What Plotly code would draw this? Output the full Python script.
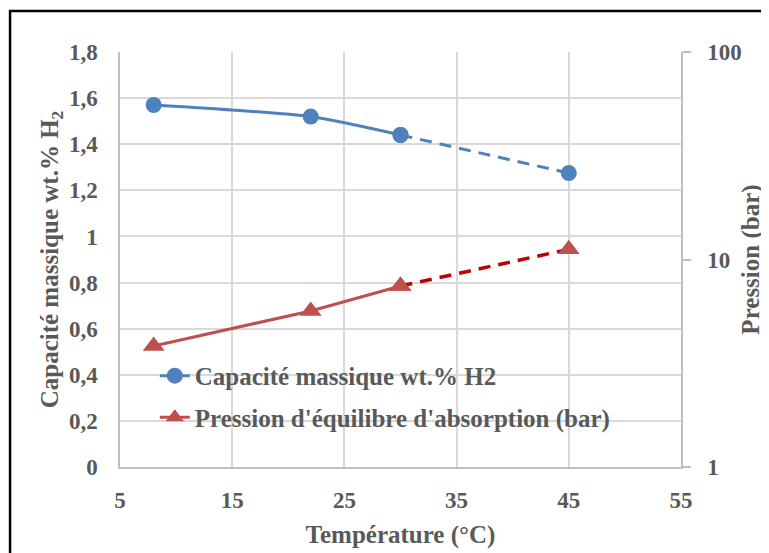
import plotly.graph_objects as go

temperature = [8, 22, 30, 45]
capacite = [1.57, 1.52, 1.44, 1.275]
pression = [3.83, 5.65, 7.45, 11.2]

x_ticks = [5, 15, 25, 35, 45, 55]
y_ticks = [0, 0.2, 0.4, 0.6, 0.8, 1.0, 1.2, 1.4, 1.6, 1.8]
y_tick_labels = ["0", "0,2", "0,4", "0,6", "0,8", "1", "1,2", "1,4", "1,6", "1,8"]
p_ticks = [1, 10, 100]

BLUE = "#4F81BD"
RED = "#C0504D"
DARK_RED = "#C00000"
GRAY = "#595959"
FONT = "Liberation Serif"

fig = go.Figure()

# Capacity: solid measured part + dashed extrapolation
fig.add_trace(go.Scatter(
    x=temperature[:3], y=capacite[:3], mode="lines+markers",
    name="Capacité massique wt.% H2", legendgroup="a",
    line=dict(color=BLUE, width=3, shape="spline", smoothing=0.6),
    marker=dict(symbol="circle", size=16, color=BLUE),
))
fig.add_trace(go.Scatter(
    x=temperature[2:], y=capacite[2:], mode="lines+markers", showlegend=False,
    legendgroup="a",
    line=dict(color=BLUE, width=3, dash="12px,8px"),
    marker=dict(symbol="circle", size=16, color=BLUE),
))

# Pressure on secondary log axis
fig.add_trace(go.Scatter(
    x=temperature[:3], y=pression[:3], mode="lines+markers", yaxis="y2",
    name="Pression d'équilibre d'absorption (bar)", legendgroup="b",
    line=dict(color=RED, width=3),
    marker=dict(symbol="triangle-up", size=19, color=RED),
))
fig.add_trace(go.Scatter(
    x=temperature[2:], y=pression[2:], mode="lines", yaxis="y2", showlegend=False,
    legendgroup="b",
    line=dict(color=DARK_RED, width=3.5, dash="12px,8px"),
))
fig.add_trace(go.Scatter(
    x=temperature[2:], y=pression[2:], mode="markers", yaxis="y2", showlegend=False,
    legendgroup="b",
    marker=dict(symbol="triangle-up", size=19, color=RED),
))

tick_font = dict(family=FONT, size=23, color=GRAY)
title_font = dict(family=FONT, size=25, color=GRAY)

fig.update_layout(
    width=761, height=545,
    margin=dict(l=112, r=88, t=44, b=86, autoexpand=False),
    paper_bgcolor="white", plot_bgcolor="white",
    font=dict(family=FONT, color=GRAY, weight="bold"),
    xaxis=dict(
        range=[5, 55], tickvals=x_ticks, ticktext=[str(v) for v in x_ticks],
        showgrid=True, gridcolor="#D9D9D9", gridwidth=1.5,
        showline=True, linecolor="#BFBFBF", linewidth=1.5, automargin=False,
        zeroline=False, ticks="", tickfont=tick_font, ticklabelstandoff=12,
        title=dict(text="Température (°C)", font=title_font, standoff=13),
    ),
    yaxis=dict(
        range=[0, 1.8], tickvals=y_ticks, ticktext=y_tick_labels,
        showgrid=True, gridcolor="#D9D9D9", gridwidth=1.5,
        showline=True, linecolor="#BFBFBF", linewidth=1.5, automargin=False,
        zeroline=False, ticks="", tickfont=tick_font, ticklabelstandoff=16,
        title=dict(text="Capacité massique wt.% H<sub>2</sub>", font=title_font, standoff=3),
    ),
    yaxis2=dict(
        type="log", range=[0, 2], overlaying="y", side="right", automargin=False,
        tickvals=p_ticks, ticktext=["1", "10", "100"],
        showgrid=False, showline=True, linecolor="#BFBFBF", linewidth=1.5,
        ticks="outside", ticklen=8, tickcolor="#BFBFBF", tickwidth=1.5,
        tickfont=tick_font, ticklabelstandoff=12,
        title=dict(text="Pression (bar)", font=title_font, standoff=1),
    ),
    legend=dict(
        x=0.062, y=0.275, xanchor="left", yanchor="top",
        bgcolor="rgba(0,0,0,0)", font=dict(family=FONT, size=25, color=GRAY),
        tracegroupgap=6, itemsizing="trace",
    ),
    shapes=[dict(
        type="rect", xref="paper", yref="paper",
        x0=-0.196, x1=1.25, y0=-0.3, y1=1.099,
        line=dict(color="black", width=2.5), fillcolor="rgba(0,0,0,0)", layer="below",
    )],
)

fig.write_html("out.html")
